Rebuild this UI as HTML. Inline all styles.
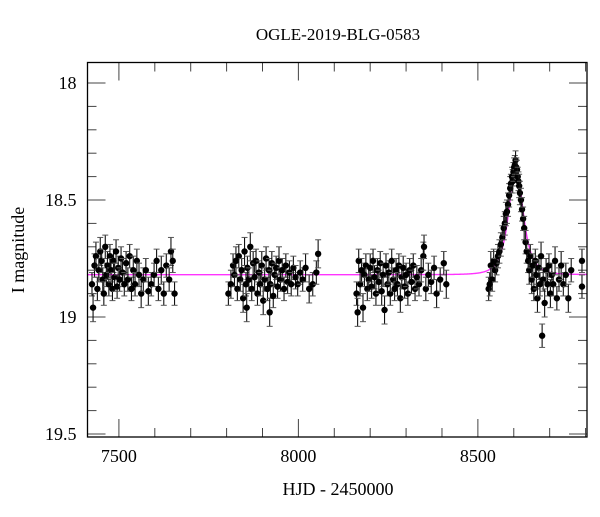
<!DOCTYPE html>
<html><head><meta charset="utf-8"><style>
html,body{margin:0;padding:0;background:#fff;}
svg text{font-family:"Liberation Serif",serif;fill:#000;}
</style></head><body>
<svg id="chart" width="600" height="512" viewBox="0 0 600 512">
<text x="338" y="40" font-size="17" text-anchor="middle">OGLE-2019-BLG-0583</text>
<text x="338" y="495" font-size="18" text-anchor="middle">HJD - 2450000</text>
<text x="24" y="250" font-size="18" text-anchor="middle" transform="rotate(-90 24 250)">I magnitude</text>
<g id="axes"></g>
<g id="series"></g>
<rect x="87.5" y="62.5" width="499.5" height="374.5" fill="none" stroke="#000" stroke-width="1.3"/>
</svg>
<script>
const xTicks=[7500,8000,8500];
const yTicks=[18,18.5,19,19.5];
const yTickLabels=["18","18.5","19","19.5"];
const times=[7425,7428,7432,7436,7440,7444,7448,7452,7455,7458,7462,7465,7468,7472,7475,7478,7482,7485,7488,7492,7495,7498,7502,7506,7510,7515,7520,7525,7530,7535,7540,7545,7550,7556,7562,7568,7575,7582,7590,7598,7605,7610,7618,7625,7632,7640,7645,7650,7655,
7805,7812,7818,7822,7826,7830,7834,7838,7842,7846,7850,7854,7856,7858,7862,7866,7870,7874,7878,7882,7886,7890,7894,7898,7902,7906,7910,7914,7918,7920,7922,7926,7930,7934,7938,7942,7946,7950,7955,7960,7965,7970,7975,7980,7986,7992,7998,8005,8012,8020,8030,8040,8050,8055,
8162,8165,8168,8172,8176,8180,8184,8188,8192,8196,8200,8204,8208,8212,8216,8220,8224,8228,8232,8236,8240,8244,8248,8252,8256,8260,8264,8268,8272,8276,8280,8284,8288,8292,8296,8300,8305,8310,8315,8320,8325,8330,8336,8342,8348,8350,8355,8362,8370,8378,8385,8395,8405,8412,
8530,8533,8536,8540,8544,8548,8552,8556,8560,8564,8568,8572,8575,8578,8581,8584,8587,8590,8592,8595,8597,8599,8601,8603,8605,8607,8609,8611,8613,8615,8617,8620,8623,8626,8629,8633,8636,8640,8643,8646,8650,8653,8656,8660,8663,8666,8670,8673,8676,8679,8682,8686,8690,8694,8698,8702,8706,8710,8715,8720,8726,8732,8738,8745,8752,8760,8790,8790];
const mags=[18.86,18.96,18.78,18.74,18.88,18.80,18.72,18.76,18.84,18.90,18.70,18.82,18.78,18.86,18.74,18.80,18.88,18.76,18.83,18.72,18.87,18.79,18.84,18.75,18.81,18.86,18.77,18.84,18.74,18.88,18.80,18.86,18.76,18.82,18.90,18.84,18.80,18.89,18.86,18.82,18.76,18.88,18.80,18.90,18.78,18.84,18.72,18.76,18.90,
18.90,18.86,18.78,18.82,18.76,18.88,18.74,18.84,18.80,18.92,18.72,18.86,18.96,18.79,18.84,18.70,18.88,18.77,18.83,18.76,18.90,18.81,18.86,18.78,18.93,18.84,18.75,18.88,18.80,18.98,18.86,18.77,18.91,18.82,18.79,18.87,18.76,18.84,18.80,18.88,18.78,18.85,18.81,18.86,18.79,18.83,18.86,18.81,18.84,18.79,18.88,18.86,18.81,18.73,
18.90,18.98,18.76,18.86,18.80,18.96,18.82,18.78,18.88,18.84,18.79,18.87,18.76,18.83,18.90,18.80,18.85,18.77,18.89,18.82,18.97,18.78,18.86,18.81,18.90,18.76,18.84,18.88,18.80,18.86,18.78,18.92,18.83,18.79,18.87,18.82,18.90,18.80,18.85,18.78,18.88,18.83,18.86,18.80,18.74,18.70,18.88,18.82,18.85,18.79,18.90,18.84,18.77,18.86,
18.88,18.86,18.78,18.84,18.76,18.80,18.77,18.74,18.72,18.69,18.66,18.62,18.60,18.56,18.55,18.52,18.48,18.45,18.43,18.40,18.42,18.38,18.36,18.35,18.33,18.36,18.37,18.40,18.42,18.44,18.47,18.50,18.54,18.58,18.62,18.68,18.72,18.76,18.80,18.74,18.84,18.78,18.88,18.76,18.82,18.92,18.79,18.86,18.74,19.08,18.84,18.94,18.80,18.86,18.78,18.90,18.82,18.86,18.76,18.92,18.84,18.78,18.86,18.82,18.92,18.80,18.76,18.87];
const errs=[0.05,0.06,0.05,0.06,0.05,0.05,0.06,0.05,0.05,0.05,0.05,0.05,0.06,0.05,0.05,0.05,0.05,0.05,0.06,0.05,0.05,0.05,0.05,0.05,0.06,0.05,0.05,0.05,0.05,0.05,0.06,0.05,0.05,0.05,0.06,0.05,0.05,0.06,0.05,0.05,0.05,0.05,0.06,0.05,0.05,0.05,0.06,0.05,0.05,
0.05,0.06,0.05,0.05,0.06,0.05,0.05,0.05,0.05,0.06,0.06,0.05,0.06,0.05,0.05,0.06,0.05,0.05,0.06,0.05,0.05,0.05,0.05,0.06,0.06,0.05,0.05,0.05,0.05,0.06,0.06,0.05,0.05,0.05,0.05,0.05,0.06,0.05,0.05,0.05,0.05,0.05,0.05,0.05,0.05,0.05,0.05,0.05,0.05,0.06,0.06,0.05,0.05,0.06,
0.05,0.06,0.05,0.05,0.05,0.06,0.05,0.05,0.05,0.05,0.06,0.05,0.05,0.05,0.05,0.05,0.05,0.05,0.06,0.05,0.06,0.05,0.05,0.05,0.05,0.05,0.05,0.05,0.05,0.05,0.05,0.06,0.05,0.05,0.05,0.05,0.05,0.05,0.05,0.05,0.05,0.05,0.05,0.05,0.06,0.05,0.05,0.05,0.05,0.05,0.06,0.05,0.05,0.06,
0.05,0.05,0.06,0.05,0.05,0.05,0.05,0.05,0.05,0.05,0.05,0.05,0.05,0.05,0.05,0.05,0.05,0.05,0.04,0.04,0.05,0.04,0.04,0.04,0.04,0.04,0.04,0.04,0.04,0.05,0.05,0.05,0.05,0.05,0.05,0.05,0.05,0.05,0.06,0.05,0.06,0.05,0.05,0.05,0.06,0.06,0.05,0.05,0.06,0.05,0.05,0.06,0.05,0.05,0.05,0.06,0.05,0.05,0.06,0.05,0.05,0.06,0.05,0.05,0.06,0.05,0.05,0.05];
const model={base:18.819,t0:8606,tE:27,u0:0.8};

const NS="http://www.w3.org/2000/svg";
const L=87.5,R=587,T=62.5,B=437;
const xMin=7412.5,xMax=8804;
const yMin=18-(83-T)/234,yMax=18+(B-83)/234;
function sx(t){return L+(t-xMin)/(xMax-xMin)*(R-L);}
function sy(m){return T+(m-yMin)/(yMax-yMin)*(B-T);}
function mk(tag,attrs){const e=document.createElementNS(NS,tag);for(const k in attrs)e.setAttribute(k,attrs[k]);return e;}
const axes=document.getElementById('axes');
for(let t=7500;t<=8800;t+=100){
  const major=(t%500===0);const len=major?18:9;const x=sx(t);
  const b=mk('line',{x1:x,x2:x,y1:B,y2:B-len,stroke:'#444','stroke-width':1});
  
  
  axes.appendChild(b);
  const tp=mk('line',{x1:x,x2:x,y1:T,y2:T+len,stroke:'#444','stroke-width':1});
  
  
  axes.appendChild(tp);
}
xTicks.forEach(function(t){
  const tx=mk('text',{x:sx(t),y:B+25,'font-size':18,'text-anchor':'middle'});
  tx.textContent=String(t);
  
  
  axes.appendChild(tx);
});
for(let i=0;i<=15;i++){
  const m=18+i*0.1;const major=(i%5===0);const len=major?18:9;const y=sy(m);
  if(y<T||y>B)continue;
  const l=mk('line',{x1:L,x2:L+len,y1:y,y2:y,stroke:'#444','stroke-width':1});
  
  
  axes.appendChild(l);
  const r=mk('line',{x1:R,x2:R-len,y1:y,y2:y,stroke:'#444','stroke-width':1});
  
  
  axes.appendChild(r);
}
yTicks.forEach(function(m,i){
  const tx=mk('text',{x:L-11,y:sy(m)+6,'font-size':18,'text-anchor':'end'});
  tx.textContent=yTickLabels[i];
  
  
  axes.appendChild(tx);
});
const series=document.getElementById('series');
function modelMag(t){const tau=(t-model.t0)/model.tE;const u2=model.u0*model.u0+tau*tau;const u=Math.sqrt(u2);const A=(u2+2)/(u*Math.sqrt(u2+4));return model.base-2.5*Math.log10(A);}
let d='';
for(let t=xMin;t<=xMax;t+=1){d+=(d?'L':'M')+sx(t).toFixed(2)+','+sy(modelMag(t)).toFixed(2);}
const curve=mk('path',{d:d,fill:'none',stroke:'#ff33ff','stroke-width':1.4});


series.appendChild(curve);
for(let i=0;i<times.length;i++){
  const x=sx(times[i]),y=sy(mags[i]),y1=sy(mags[i]-errs[i]),y2=sy(mags[i]+errs[i]);
  const g=mk('g',{});
  
  
  g.appendChild(mk('line',{x1:x,x2:x,y1:y1,y2:y2,stroke:'#111','stroke-width':1.1}));
  g.appendChild(mk('line',{x1:x-3,x2:x+3,y1:y1,y2:y1,stroke:'#555','stroke-width':1}));
  g.appendChild(mk('line',{x1:x-3,x2:x+3,y1:y2,y2:y2,stroke:'#555','stroke-width':1}));
  g.appendChild(mk('circle',{cx:x,cy:y,r:3.2,fill:'#000'}));
  series.appendChild(g);
}
</script>
</body></html>
